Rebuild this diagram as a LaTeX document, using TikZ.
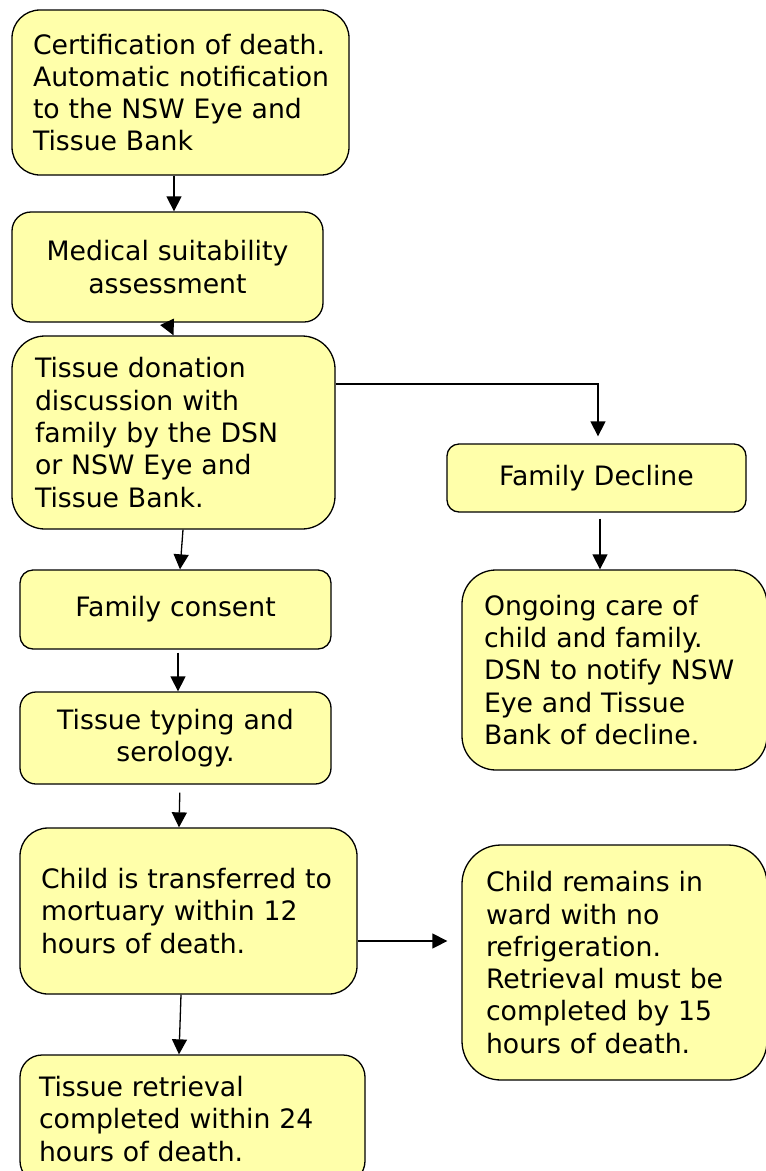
\documentclass[tikz,border=0pt]{standalone}
\usepackage{fontspec}
\setmainfont{DejaVu Sans}
\usetikzlibrary{arrows.meta,calc}
\definecolor{boxyellow}{RGB}{255,255,170}

\tikzset{
	stepbox/.style={draw=black, fill=boxyellow, line width=1.3pt, inner ysep=0pt,
		font=\fontsize{26.7}{32.3}\selectfont},
	leftbox/.style={stepbox, align=left},
	midbox/.style={stepbox, align=center},
	flow/.style={line width=1.3pt, -{Triangle[length=15pt,width=15pt]}}
}

\begin{document}
\begin{tikzpicture}[x=1pt, y=-1pt]
			%%%%% START %%%%%
			
			\useasboundingbox (0, 0) rectangle (766, 1171);
			
			% main column
			\node[leftbox, rounded corners=28pt, minimum width=337pt, minimum height=165pt, text width=295pt, inner xsep=21pt] (cert) at (180.5, 92.5)
				{Certification of death.\\\mbox{Automatic notification}\\to the NSW Eye and\\Tissue Bank};
			\node[midbox, rounded corners=19pt, minimum width=311pt, minimum height=110pt, text width=281pt, inner xsep=15pt] (assess) at (167.5, 267)
				{Medical suitability\\assessment};
			\node[leftbox, rounded corners=33pt, minimum width=323pt, minimum height=193pt, text width=277pt, inner xsep=23pt] (discuss) at (173.5, 432.5)
				{Tissue donation\\discussion with\\family by the DSN\\or NSW Eye and\\Tissue Bank.};
			\node[midbox, rounded corners=13pt, minimum width=311pt, minimum height=79pt, text width=281pt, inner xsep=15pt] (consent) at (175.5, 609.5)
				{Family consent};
			\node[midbox, rounded corners=16pt, minimum width=311pt, minimum height=92pt, text width=281pt, inner xsep=15pt] (typing) at (175.5, 738)
				{Tissue typing and\\serology.};
			\node[leftbox, rounded corners=28pt, minimum width=337pt, minimum height=166pt, text width=295pt, inner xsep=21pt] (transfer) at (188.5, 911)
				{\mbox{Child is transferred to}\\mortuary within 12\\hours of death.};
			\node[leftbox, rounded corners=22pt, minimum width=345pt, minimum height=128pt, text width=307pt, inner xsep=19pt] (retrieval) at (192.5, 1119)
				{Tissue retrieval\\completed within 24\\hours of death.};
			
			% right column
			\node[midbox, rounded corners=12pt, minimum width=299pt, minimum height=68pt, text width=269pt, inner xsep=15pt] (decline) at (596.5, 478)
				{Family Decline};
			\node[leftbox, rounded corners=34pt, minimum width=305pt, minimum height=200pt, text width=261pt, inner xsep=22pt] (ongoing) at (614.5, 670)
				{Ongoing care of\\child and family.\\DSN to notify NSW\\Eye and Tissue\\Bank of decline.};
			\node[leftbox, rounded corners=39pt, minimum width=305pt, minimum height=235pt, text width=257pt, inner xsep=24pt] (remain) at (614.5, 962.5)
				{Child remains in\\ward with no\\refrigeration.\\Retrieval must be\\completed by 15\\hours of death.};
			
			% arrows
			\draw[flow] ([xshift=-6.5pt]cert.south) -- ([xshift=6.5pt]assess.north);
			\draw[flow] (assess.south) -- (discuss.north);
			\draw[flow] ([xshift=9.5pt]discuss.south) -- ([xshift=4.5pt]consent.north);
			\draw[flow, shorten <=3pt] ([xshift=2.5pt]consent.south) -- ([xshift=2.5pt]typing.north);
			\draw[flow, shorten <=8pt] ([xshift=4.5pt]typing.south) -- ([xshift=-9.5pt]transfer.north);
			\draw[flow] ([xshift=-7.5pt]transfer.south) -- ([xshift=-13.5pt]retrieval.north);
			\draw[flow, shorten >=14pt] ([yshift=-30pt]transfer.east) -- ([yshift=-30pt]transfer.east -| remain.west);
			\draw[flow, shorten >=7pt] ([yshift=48.5pt]discuss.east) -| ([xshift=1.5pt]decline.north);
			\draw[flow, shorten <=6pt] ([xshift=3.5pt]decline.south) -- ([xshift=-14.5pt]ongoing.north);
			
			%%%%% END %%%%%
\end{tikzpicture}
\end{document}
